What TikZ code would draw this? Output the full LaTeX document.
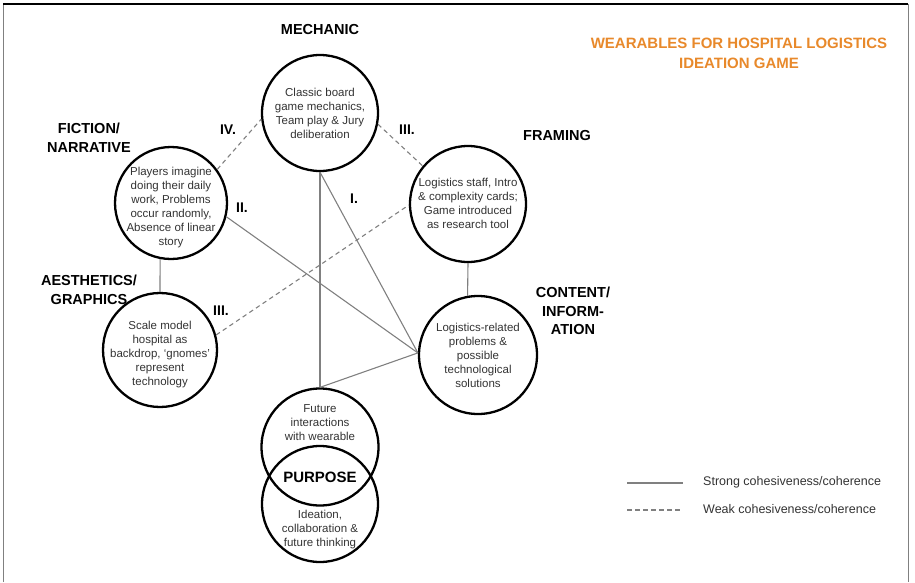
\documentclass[tikz,border=0pt]{standalone}
\usepackage{fontspec}
\setmainfont{Liberation Sans}
\definecolor{bodygrey}{HTML}{333333}
\definecolor{linkgrey}{HTML}{808080}
\definecolor{titleorange}{HTML}{E8892B}
\begin{document}
\begin{tikzpicture}[x=1pt,y=-1pt,
  topic/.style={draw=black,line width=2.3pt,circle,minimum size=#1,inner sep=0pt},
  body/.style={align=center,text=bodygrey,font=\fontsize{11.5}{14}\selectfont,inner sep=0pt},
  head/.style={align=center,font=\fontsize{14.5}{19}\selectfont\bfseries,inner sep=0pt},
  numeral/.style={font=\fontsize{14}{16}\selectfont\bfseries,inner sep=0pt},
  strong/.style={draw=linkgrey,line width=1.1pt},
  weak/.style={draw=linkgrey,line width=1.1pt,dash pattern=on 4.5pt off 3.5pt}]
\useasboundingbox (0,0) rectangle (915,582);

% open frame
\draw[linkgrey,line width=0.9pt] (3,582) -- (3,4);
\draw[linkgrey,line width=0.9pt] (908,4) -- (908,582);
\draw[black,line width=1.8pt] (3,4) -- (908,4);

% title
\node[head,text=titleorange,font=\fontsize{15}{20}\selectfont\bfseries] (title) at (739,53)
  {WEARABLES FOR HOSPITAL LOGISTICS\\IDEATION GAME};

% element circles
\node[topic=116pt] (mech) at (320,113) {};
\node[topic=112pt] (fict) at (171,203) {};
\node[topic=116pt] (fram) at (468,204) {};
\node[topic=114pt] (aest) at (160,350) {};
\node[topic=118pt] (cont) at (478,355) {};
\node[topic=117pt] (purpA) at (320,447) {};
\node[topic=116pt] (purpB) at (320,504) {};

% circle texts
\node[body] (mechtext) at (mech) {Classic board\\game mechanics,\\Team play \& Jury\\deliberation};
\node[body] (ficttext) at (171,208) {Players imagine\\doing their daily\\work, Problems\\occur randomly,\\Absence of linear\\story};
\node[body] (framtext) at (468,203) {Logistics staff, Intro\\\& complexity cards;\\Game introduced\\as research tool};
\node[body] (aesttext) at (160,355) {Scale model\\hospital as\\backdrop, `gnomes'\\represent\\technology};
\node[body] (conttext) at (478,355) {Logistics-related\\problems \&\\possible\\technological\\solutions};
\node[body] (purpAtext) at (320,423) {Future\\interactions\\with wearable};
\node[body] (purpBtext) at (320,530) {Ideation,\\collaboration \&\\future thinking};

% element headings
\node[head] (mechhead) at (320,30) {MECHANIC};
\node[head] (ficthead) at (89,138) {FICTION/\\NARRATIVE};
\node[head] (aesthead) at (89,290) {AESTHETICS/\\GRAPHICS};
\node[head] (framhead) at (557,136) {FRAMING};
\node[head,font=\fontsize{14.5}{18.5}\selectfont\bfseries] (conthead) at (573,311) {CONTENT/\\INFORM-\\ATION};
\node[head,font=\fontsize{15}{18}\selectfont\bfseries] (purphead) at (320,477) {PURPOSE};

% strong links
\coordinate (hub) at (cont.178);
\draw[strong] (mech.south) -- (purpA.north);
\draw[strong] (mech.south) -- (hub);
\draw[strong] (fict.-14) -- (hub);
\draw[strong] (purpA.north) -- (hub);
\draw[strong] (fict.-101) -- (aest.north);
\draw[strong] (fram.south) -- (cont.100);

% weak links
\draw[weak] (fict.36) -- (mech.186);
\draw[weak] (mech.-11) -- (fram.140);
\draw[weak] (aest.15) -- (fram.181);

% link numerals
\node[numeral] (nIV) at (228,130) {IV.};
\node[numeral] (nIIIa) at (407,130) {III.};
\node[numeral] (nII) at (242,208) {II.};
\node[numeral] (nI) at (354,199) {I.};
\node[numeral] (nIIIb) at (221,311) {III.};

% legend
\coordinate (ls1) at (627,483);
\coordinate (le1) at (683,483);
\coordinate (ls2) at (627,510);
\coordinate (le2) at (683,510);
\draw[strong] (ls1) -- (le1);
\draw[weak] (ls2) -- (le2);
\node[anchor=west,inner sep=0pt,text=bodygrey,font=\fontsize{12.5}{15}\selectfont] (legstrong) at (703,482) {Strong cohesiveness/coherence};
\node[anchor=west,inner sep=0pt,text=bodygrey,font=\fontsize{12.5}{15}\selectfont] (legweak) at (703,509) {Weak cohesiveness/coherence};
\end{tikzpicture}
\end{document}
